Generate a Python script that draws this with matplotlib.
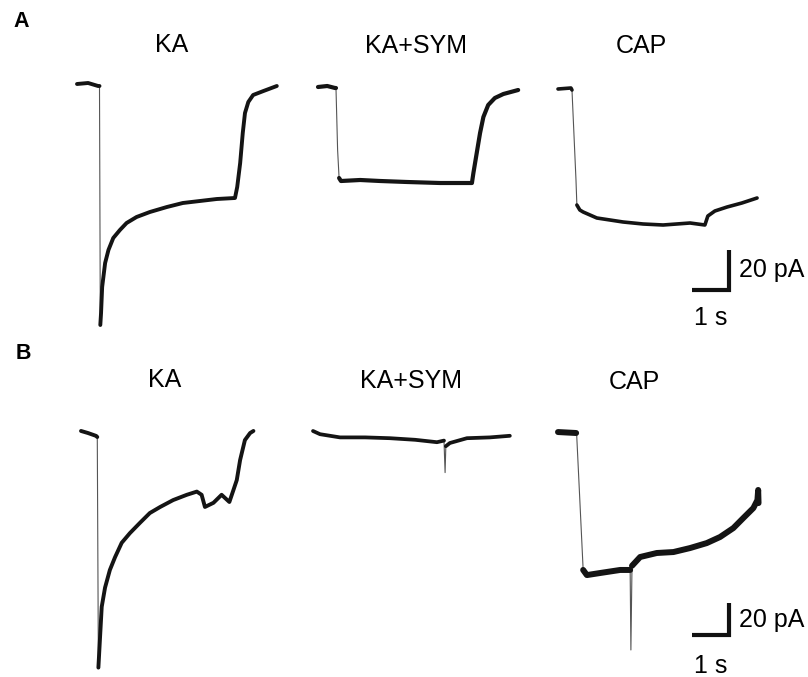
import matplotlib
matplotlib.use("Agg")
import matplotlib.pyplot as plt

plt.rcParams['font.family'] = ['Liberation Sans', 'DejaVu Sans']

# ---------------- data (time in s, current in pA relative to baseline) ----------------
# Panel A
A_KA_t = [0, 0.30, 0.57, 0.608, 0.63, 0.65, 0.68, 0.76, 0.85, 0.98, 1.16, 1.34, 1.61, 1.97,
          2.43, 2.86, 3.32, 3.78, 4.27, 4.33, 4.41, 4.48, 4.54, 4.63, 4.76, 5.04, 5.40]
A_KA_I = [0, 0.5, -1, -1, -120.5, -114.5, -101.5, -89.5, -83, -77, -73, -69.5, -66.5, -64,
          -61.5, -59.5, -58.5, -57.5, -57, -51.5, -39.5, -24.5, -14.5, -9, -5.5, -3.5, -1]

A_SYM_t = [0, 0.25, 0.46, 0.486, 0.53, 0.57, 0.62, 1.14, 1.68, 2.41, 3.30, 4.16, 4.20, 4.29,
           4.38, 4.47, 4.60, 4.78, 5.01, 5.41]
A_SYM_I = [0, 0.5, -0.5, -0.5, -31.5, -45.5, -47, -46.5, -47, -47.5, -48, -48, -43, -33,
           -23, -15, -9, -5.5, -3.5, -1.5]

A_CAP_t = [0, 0.35, 0.378, 0.486, 0.51, 0.59, 0.68, 1.05, 1.76, 2.30, 2.84, 3.57, 3.97, 4.05,
           4.24, 4.57, 4.97, 5.38]
A_CAP_I = [0, 0.5, -0.5, -45.5, -58, -60.5, -61.5, -64.5, -66.5, -67.5, -68, -67, -68, -63.5,
           -61, -59, -57, -54.5]

# Panel B
B_KA_t = [0, 0.19, 0.41, 0.44, 0.47, 0.51, 0.56, 0.65, 0.78, 0.92, 1.10, 1.32, 1.59, 1.86,
          2.14, 2.49, 2.86, 3.13, 3.26, 3.35, 3.58, 3.80, 4.01, 4.12, 4.21, 4.30, 4.43, 4.57,
          4.66]
B_KA_I = [1.9, 0.6, -1.2, -1.9, -146, -129, -108, -96, -85, -77, -68, -62, -55.6, -49.4,
          -45.6, -41.3, -38, -36, -38, -45.6, -43, -38, -42.5, -35, -28.8, -16.3, -3.8, 0.6,
          1.9]

B_SYM_t = [0, 0.19, 0.73, 1.41, 2.08, 2.76, 3.35, 3.54, 3.57, 3.59, 3.70, 4.16, 4.78, 5.32]
B_SYM_I = [0, -2, -4, -4, -4.5, -5.5, -7, -6, -26, -9.5, -7.5, -4.5, -4, -3]

B_CAP_t = [0, 0.49, 0.505, 0.59, 0.68, 0.78, 1.14, 1.68, 1.95, 1.97, 2.0, 2.22, 2.67, 3.12,
           3.57, 4.02, 4.38, 4.74, 5.01, 5.28, 5.39, 5.41, 5.42]
B_CAP_I = [0.6, 0, -1.2, -42, -85.6, -88.8, -87.5, -85.6, -85.6, -135.6, -83, -77.5, -75,
           -74.4, -71.9, -68.8, -65, -59.4, -53.1, -46.9, -41.9, -35.6, -43.8]

titles = ["KA", "KA+SYM", "CAP"]
panel_labels = ["A", "B"]
scale_pA = 20
scale_s = 1

# ---------------- layout ----------------
W, H = 808, 677
fig = plt.figure(figsize=(W / 100, H / 100), dpi=100)
PX_PER_S = 37.0


def add_axes_px(x0, y0, sx, sy, xlim, ylim):
    """Axes whose data origin (0,0) sits at pixel (x0, y0) (y downward)."""
    left = x0 + xlim[0] * sx
    right = x0 + xlim[1] * sx
    top = y0 - ylim[1] * sy
    bottom = y0 - ylim[0] * sy
    ax = fig.add_axes([left / W, 1 - bottom / H, (right - left) / W, (bottom - top) / H])
    ax.set_xlim(*xlim)
    ax.set_ylim(*ylim)
    ax.axis('off')
    return ax


def draw_trace(x0, y0, sy, t, I, thick_slices, thick_lw):
    ax = add_axes_px(x0, y0, PX_PER_S, sy, (-0.2, 5.8), (-150, 10))
    ax.plot(t, I, color='#555555', lw=0.8, solid_joinstyle='round')
    for s0, s1 in thick_slices:
        ax.plot(t[s0:s1], I[s0:s1], color='#141414', lw=thick_lw,
                solid_joinstyle='round', solid_capstyle='round')


def draw_scalebar(xc, yc, sy, txt_y_pa, txt_y_s):
    ax = add_axes_px(xc, yc, PX_PER_S, sy, (-1.5, 0.5), (-5, 25))
    ax.plot([-scale_s, 0, 0], [0, 0, scale_pA], color='#111111', lw=3.0,
            solid_capstyle='butt', solid_joinstyle='miter')
    fig.text(739 / W, 1 - txt_y_pa / H, f"{scale_pA} pA", fontsize=18,
             ha='left', va='baseline')
    fig.text(711 / W, 1 - txt_y_s / H, f"{scale_s} s", fontsize=18,
             ha='center', va='baseline')


SY_A = 2.0   # px per pA, panel A
SY_B = 1.6   # px per pA, panel B

# Panel A traces
draw_trace(77, 84, SY_A, A_KA_t, A_KA_I, [(0, 4), (4, None)], 2.8)
draw_trace(318, 87, SY_A, A_SYM_t, A_SYM_I, [(0, 4), (5, None)], 3.0)
draw_trace(558, 89, SY_A, A_CAP_t, A_CAP_I, [(0, 3), (4, None)], 2.6)
draw_scalebar(729, 290, SY_A, 277, 325)

# Panel B traces
draw_trace(81, 434, SY_B, B_KA_t, B_KA_I, [(0, 4), (4, None)], 2.8)
draw_trace(313, 431, SY_B, B_SYM_t, B_SYM_I, [(0, 8), (9, None)], 2.7)
draw_trace(558, 433, SY_B, B_CAP_t, B_CAP_I, [(0, 2), (4, 9), (10, None)], 4.3)
draw_scalebar(729, 635, SY_B, 627, 673)

# Titles
for (cx, by), name in zip([(172, 52), (416, 53), (641, 53)], titles):
    fig.text(cx / W, 1 - by / H, name, fontsize=18, ha='center', va='baseline')
for (cx, by), name in zip([(165, 387), (411, 388), (634, 389)], titles):
    fig.text(cx / W, 1 - by / H, name, fontsize=18, ha='center', va='baseline')

# Panel letters
fig.text(21 / W, 1 - 27 / H, panel_labels[0], fontsize=15.5, fontweight='bold',
         ha='center', va='baseline')
fig.text(23 / W, 1 - 359 / H, panel_labels[1], fontsize=15.5, fontweight='bold',
         ha='center', va='baseline')

fig.savefig("out.png", dpi=100, facecolor='white')
